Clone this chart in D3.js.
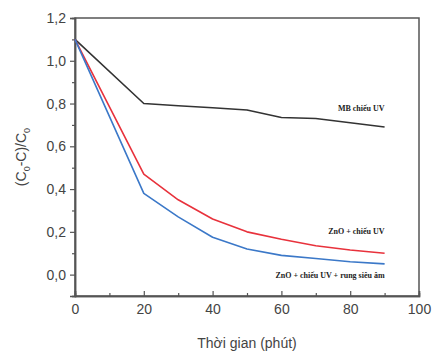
<!DOCTYPE html>
<html lang="en">
<head>
  <meta charset="UTF-8" />
  <title>Degradation chart</title>
  <script src="https://d3js.org/d3.v7.min.js"></script>
  <style>
    body { margin: 0; background: #fff; }
    svg { display: block; font-family: Arial, "Liberation Sans", sans-serif; }
  </style>
</head>
<body>
  <script>
    // data
    const times = [0, 20, 30, 40, 50, 60, 70, 80, 90];
    const mbUV = [1.1, 0.80, 0.79, 0.78, 0.77, 0.735, 0.73, 0.71, 0.69];
    const znoUV = [1.1, 0.47, 0.35, 0.26, 0.20, 0.165, 0.135, 0.115, 0.10];
    const znoUVUltra = [1.1, 0.38, 0.27, 0.175, 0.12, 0.09, 0.075, 0.06, 0.05];
    const seriesNames = ['MB chiếu UV', 'ZnO + chiếu UV', 'ZnO + chiếu UV + rung siêu âm'];
    const xTicks = [0, 20, 40, 60, 80, 100];
    const yTicks = [0, 0.2, 0.4, 0.6, 0.8, 1.0, 1.2];

    const W = 433, H = 358;
    const margin = { top: 18, right: 14, bottom: 62, left: 75 };

    const svg = d3.select('body').append('svg')
      .attr('width', W)
      .attr('height', H);

    const x = d3.scaleLinear().domain([0, 100]).range([margin.left, W - margin.right]);
    const y = d3.scaleLinear().domain([-0.1, 1.2]).range([H - margin.bottom, margin.top]);

    const fmt = d => d3.format('.1f')(d).replace('.', ',');

    // frame
    svg.append('rect')
      .attr('x', margin.left).attr('y', margin.top)
      .attr('width', W - margin.left - margin.right)
      .attr('height', H - margin.bottom - margin.top)
      .attr('fill', 'none').attr('stroke', '#555').attr('stroke-width', 1.5);

    // minor ticks (x ticks point inward, y ticks outward)
    const xAxisMinor = d3.axisBottom(x).tickValues(d3.range(10, 100, 20)).tickSize(-3).tickFormat('');
    const yAxisMinor = d3.axisLeft(y).tickValues([-0.1, 0.1, 0.3, 0.5, 0.7, 0.9, 1.1]).tickSize(3).tickFormat('');
    svg.append('g').attr('transform', `translate(0,${H - margin.bottom})`).call(xAxisMinor);
    svg.append('g').attr('transform', `translate(${margin.left},0)`).call(yAxisMinor);

    const xAxis = d3.axisBottom(x).tickValues(xTicks).tickSize(-5).tickPadding(8).tickFormat(d3.format('d'));
    const yAxis = d3.axisLeft(y).tickValues(yTicks).tickSize(5).tickPadding(4).tickFormat(fmt);
    svg.append('g').attr('transform', `translate(0,${H - margin.bottom})`).call(xAxis);
    svg.append('g').attr('transform', `translate(${margin.left},0)`).call(yAxis);

    svg.selectAll('.domain').attr('stroke', '#555').attr('stroke-width', 1.5);
    svg.selectAll('.tick line').attr('stroke', '#555').attr('stroke-width', 1.2);
    svg.selectAll('.tick text').attr('font-size', 14).attr('fill', '#444');

    // lines
    const line = d3.line().x((d, i) => x(times[i])).y(d => y(d));
    const series = [
      { values: mbUV, color: '#333' },
      { values: znoUV, color: '#e8323c' },
      { values: znoUVUltra, color: '#3b78c8' }
    ];
    svg.selectAll('.series')
      .data(series)
      .join('path')
      .attr('class', 'series')
      .attr('d', d => line(d.values))
      .attr('fill', 'none')
      .attr('stroke', d => d.color)
      .attr('stroke-width', 1.6)
      .attr('stroke-linejoin', 'round');

    // series labels, placed relative to the end of each line
    const labelOffset = [0.075, 0.09, -0.065];
    const lastVals = [mbUV[8], znoUV[8], znoUVUltra[8]];
    svg.selectAll('.lbl')
      .data(seriesNames)
      .join('text')
      .attr('class', 'lbl')
      .attr('x', x(90))
      .attr('y', (d, i) => y(lastVals[i] + labelOffset[i]))
      .attr('text-anchor', 'end')
      .attr('font-family', '"Liberation Serif", "DejaVu Serif", serif')
      .attr('font-weight', 'bold')
      .attr('font-size', 8)
      .attr('fill', '#222')
      .text(d => d);

    // axis titles
    svg.append('text')
      .attr('x', x(50))
      .attr('y', H - 10)
      .attr('text-anchor', 'middle')
      .attr('font-size', 14)
      .attr('fill', '#444')
      .text('Thời gian (phút)');

    const yl = svg.append('text')
      .attr('transform', `translate(26,${y(0.55)}) rotate(-90)`)
      .attr('text-anchor', 'middle')
      .attr('font-size', 14)
      .attr('fill', '#444');
    yl.append('tspan').text('(C');
    yl.append('tspan').attr('font-size', 9).attr('dy', 4).text('0');
    yl.append('tspan').attr('dy', -4).text('-C)/C');
    yl.append('tspan').attr('font-size', 9).attr('dy', 4).text('0');
  </script>
</body>
</html>
